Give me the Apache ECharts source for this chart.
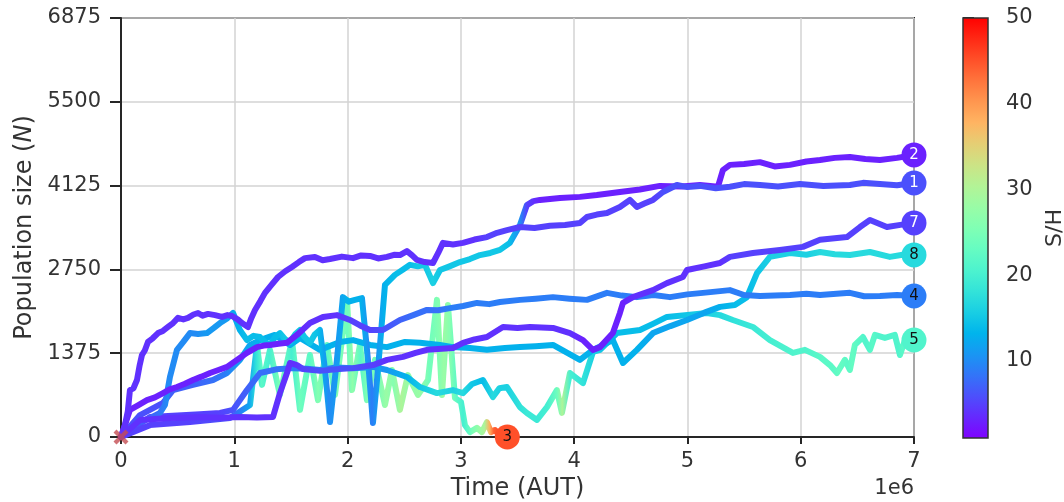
<!DOCTYPE html>
<html>
<head>
<meta charset="utf-8">
<script src="https://cdn.jsdelivr.net/npm/echarts@6/dist/echarts.min.js"></script>
<style>html,body{margin:0;padding:0;background:#fff;}#chart{width:1064px;height:502px;}</style>
</head>
<body>
<div id="chart"></div>
<script>
// ---- data: [time (1e6 AUT), population N, S/H] ----
const s1 = [[0,0,4],[0.035,200,4],[0.06,420,4],[0.079,770,4],[0.11,800,4],[0.141,935,4],[0.165,1180,4],[0.185,1345,4],[0.21,1420,4],[0.238,1560,4],[0.28,1620,4],[0.327,1705,4],[0.37,1740,4],[0.415,1805,4],[0.46,1870,4],[0.503,1955,4],[0.55,1930,4],[0.591,1955,4],[0.64,2010,4],[0.68,2035,4],[0.72,1990,4],[0.768,2020,4],[0.83,2000,4],[0.892,1970,4],[0.94,2000,4],[0.98,1985,4],[1.03,1930,4],[1.068,1870,4],[1.121,1805,4],[1.15,1950,4],[1.183,2085,4],[1.23,2230,4],[1.271,2365,4],[1.33,2500,4],[1.386,2625,4],[1.45,2720,4],[1.509,2790,4],[1.57,2870,4],[1.624,2935,4],[1.712,2955,4],[1.78,2900,4],[1.845,2920,4],[1.95,2960,4],[2.048,2935,4],[2.12,2980,4],[2.198,2970,4],[2.27,2930,4],[2.348,2955,4],[2.41,2990,4],[2.462,2985,4],[2.524,3050,4],[2.57,2980,4],[2.612,2905,4],[2.68,2870,4],[2.754,2855,4],[2.8,3020,4],[2.842,3185,4],[2.93,3160,4],[3.019,3185,4],[3.12,3240,4],[3.23,3280,5],[3.32,3350,5],[3.407,3395,5],[3.522,3445,5],[3.65,3430,5],[3.786,3465,5],[3.92,3480,5],[4.051,3510,5],[4.113,3610,5],[4.2,3650,5],[4.29,3675,5],[4.404,3775,5],[4.492,3890,5],[4.554,3775,5],[4.62,3830,5],[4.696,3890,5],[4.784,4020,6],[4.907,4135,6],[5.0,4100,6],[5.11,4120,6],[5.25,4080,6],[5.375,4105,6],[5.5,4150,6],[5.64,4135,6],[5.8,4110,6],[5.993,4150,6],[6.2,4120,6],[6.434,4135,6],[6.55,4170,6],[6.699,4150,6],[6.85,4130,6],[7,4168,6]];
const s2 = [[0,0,6],[0.124,200,6],[0.256,310,7],[0.344,395,8],[0.388,525,9],[0.432,985,10],[0.494,1430,10],[0.55,1560,10],[0.609,1705,10],[0.68,1690,10],[0.759,1705,11],[0.82,1790,11],[0.874,1870,11],[0.94,1950,11],[0.989,2035,12],[1.05,1755,13],[1.112,1590,14],[1.17,1660,14],[1.227,1640,14],[1.27,1560,14],[1.315,1510,14],[1.36,1640,14],[1.403,1705,14],[1.45,1600,15],[1.492,1560,15],[1.54,1690,15],[1.58,1755,15],[1.62,1640,15],[1.668,1545,15],[1.71,1680,15],[1.756,1755,14],[1.801,1100,12],[1.845,245,10],[1.906,1265,11],[1.959,2295,12],[2.01,2220,13],[2.065,2250,13],[2.127,2280,13],[2.18,1265,11],[2.224,230,9],[2.268,1100,11],[2.33,2495,13],[2.418,2660,14],[2.49,2750,14],[2.551,2825,14],[2.62,2800,15],[2.683,2825,15],[2.754,2525,16],[2.816,2740,15],[2.9,2800,15],[2.992,2870,15],[3.08,2920,15],[3.169,2985,15],[3.26,3020,15],[3.345,3070,15],[3.433,3185,14],[3.522,3480,10],[3.583,3805,5],[3.64,3870,4],[3.698,3890,3],[3.875,3920,3],[4.051,3940,3],[4.2,3970,3],[4.404,4020,3],[4.58,4060,3],[4.757,4120,3],[4.95,4110,3],[5.11,4135,3],[5.269,4105,3],[5.313,4380,3],[5.375,4465,3],[5.5,4480,3],[5.64,4510,3],[5.77,4440,3],[5.905,4465,3],[6.05,4520,3],[6.17,4545,3],[6.3,4580,3],[6.434,4595,3],[6.57,4560,3],[6.699,4545,3],[6.85,4580,3],[7,4628,3]];
const s3 = [[0,0,5],[0.256,195,5],[0.609,245,5],[0.962,310,6],[1.139,525,12],[1.2,1510,18],[1.245,855,22],[1.315,1430,20],[1.403,690,25],[1.509,1590,20],[1.58,445,24],[1.668,1345,22],[1.739,605,26],[1.818,1510,22],[1.889,690,26],[1.995,2250,24],[2.039,770,27],[2.109,1510,22],[2.171,605,26],[2.242,1265,24],[2.33,525,28],[2.392,1100,26],[2.462,445,30],[2.533,1015,27],[2.621,690,28],[2.71,935,24],[2.789,2250,26],[2.833,690,28],[2.886,2165,26],[2.948,640,22],[3.001,575,20],[3.036,195,22],[3.08,80,25],[3.142,150,28],[3.186,80,30],[3.23,245,38],[3.266,80,44],[3.301,115,45],[3.345,15,45],[3.41,0,45]];
const s4 = [[0,0,3],[0.079,445,3],[0.15,520,3],[0.229,605,3],[0.3,650,3],[0.371,720,3],[0.43,780,3],[0.494,820,3],[0.56,870,3],[0.635,935,3],[0.71,990,3],[0.786,1050,3],[0.86,1100,3],[0.936,1150,3],[1.024,1265,3],[1.112,1380,3],[1.2,1475,3],[1.26,1500,3],[1.315,1510,3],[1.39,1530,3],[1.465,1545,3],[1.553,1675,3],[1.668,1870,4],[1.783,1970,4],[1.906,2000,4],[2.021,1920,5],[2.11,1830,5],[2.198,1755,5],[2.312,1755,6],[2.462,1920,7],[2.58,2000,8],[2.701,2085,8],[2.8,2080,8],[2.904,2115,9],[3.02,2150,9],[3.142,2200,9],[3.25,2180,9],[3.345,2215,9],[3.522,2250,9],[3.66,2270,9],[3.813,2295,9],[3.96,2270,9],[4.113,2250,9],[4.29,2365,9],[4.42,2320,9],[4.554,2295,9],[4.7,2330,9],[4.846,2295,9],[5.0,2340,9],[5.137,2365,9],[5.375,2410,9],[5.5,2330,9],[5.64,2315,9],[5.905,2330,9],[6.05,2350,9],[6.17,2330,9],[6.434,2365,9],[6.56,2310,9],[6.699,2315,9],[6.85,2330,9],[7,2314,9]];
const s5 = [[0,0,5],[0.256,330,5],[0.697,375,5],[0.874,395,5],[0.989,445,6],[1.112,770,7],[1.227,1050,8],[1.37,1110,8],[1.518,1130,9],[1.64,1120,9],[1.756,1100,9],[1.9,1140,9],[2.048,1130,10],[2.224,1150,10],[2.348,1100,11],[2.524,985,13],[2.639,820,15],[2.789,720,17],[2.93,770,16],[3.019,720,17],[3.1,870,15],[3.195,935,14],[3.283,655,17],[3.34,800,16],[3.407,820,16],[3.522,490,18],[3.583,395,19],[3.672,280,19],[3.76,490,20],[3.848,770,24],[3.892,395,30],[3.963,1050,20],[4.078,885,18],[4.166,1395,16],[4.228,1430,15],[4.378,1705,14],[4.581,1755,14],[4.7,1860,14],[4.819,1970,14],[5.0,2000,15],[5.172,2035,16],[5.287,2000,17],[5.401,1920,18],[5.578,1805,19],[5.728,1590,20],[5.931,1380,21],[6.037,1430,21],[6.17,1315,22],[6.258,1180,22],[6.32,1050,23],[6.39,1265,22],[6.434,1100,23],[6.478,1510,22],[6.549,1640,21],[6.611,1430,22],[6.655,1675,21],[6.743,1625,21],[6.831,1675,21],[6.876,1345,22],[6.92,1590,21],[7,1592,21]];
const s7 = [[0,0,4],[0.168,280,4],[0.432,310,4],[0.697,330,4],[0.88,315,4],[1.05,330,4],[1.2,320,4],[1.342,330,4],[1.403,720,4],[1.465,1050,4],[1.492,1215,4],[1.553,1180,4],[1.606,1115,5],[1.756,1085,6],[1.9,1110,6],[2.048,1130,6],[2.224,1180,5],[2.348,1265,4],[2.489,1315,4],[2.6,1380,4],[2.701,1430,4],[2.93,1460,4],[3.019,1545,4],[3.12,1600,4],[3.23,1640,4],[3.372,1805,4],[3.5,1790,4],[3.61,1805,4],[3.813,1790,4],[3.963,1705,4],[4.078,1590,3],[4.166,1430,3],[4.228,1475,3],[4.342,1705,3],[4.404,2035,3],[4.431,2200,3],[4.519,2295,4],[4.696,2410,4],[4.819,2525,4],[4.96,2625,4],[4.996,2740,4],[5.15,2800,4],[5.287,2855,4],[5.375,2955,5],[5.578,3020,5],[5.816,3070,5],[6.019,3120,5],[6.17,3235,5],[6.408,3280,5],[6.523,3445,5],[6.611,3560,5],[6.761,3445,5],[6.88,3480,5],[7,3512,5]];
const s8 = [[0,0,6],[0.168,360,6],[0.371,560,6],[0.459,770,7],[0.635,855,7],[0.812,935,8],[0.936,1050,9],[1.05,1265,11],[1.139,1510,12],[1.227,1590,13],[1.359,1675,13],[1.492,1510,13],[1.58,1625,13],[1.756,1430,13],[1.933,1560,13],[2.048,1590,13],[2.198,1510,13],[2.348,1475,13],[2.507,1560,13],[2.639,1545,13],[2.816,1510,13],[2.93,1475,13],[3.08,1460,13],[3.23,1430,13],[3.389,1460,13],[3.522,1475,13],[3.66,1490,13],[3.813,1510,13],[4.051,1265,13],[4.166,1430,13],[4.342,1590,13],[4.431,1215,13],[4.554,1430,13],[4.696,1705,12],[4.85,1820,12],[4.996,1920,12],[5.15,2040,12],[5.287,2135,13],[5.419,2165,14],[5.525,2295,14],[5.614,2690,15],[5.728,2955,16],[5.905,3020,16],[6.05,2990,16],[6.17,3035,17],[6.3,3000,17],[6.434,2985,17],[6.611,3035,17],[6.787,2955,17],[6.9,2990,17],[7,2987,17]];

const seriesNames = ['3','5','8','2','4','7','1'];
const seriesData  = [s3, s5, s8, s2, s4, s7, s1];
const whiteLabel = ['1','2','7'];

const xTicks = [0,1,2,3,4,5,6,7];
const yTicks = [0,1375,2750,4125,5500,6875];
const cbTicks = [10,20,30,40,50];
const CB_MIN = 1, CB_MAX = 50;
const deathPoint = [0, 0];

// ---- rendering ----
function rainbow(v){
  const t = Math.min(1, Math.max(0, (v - CB_MIN) / (CB_MAX - CB_MIN)));
  const r = Math.min(1, Math.abs(2*t - 0.5));
  const g = Math.sin(Math.PI*t);
  const b = Math.cos(Math.PI*t/2);
  return 'rgb(' + Math.round(r*255) + ',' + Math.round(g*255) + ',' + Math.round(b*255) + ')';
}
function lineGradient(pts){
  const t0 = pts[0][0], t1 = pts[pts.length-1][0];
  return new echarts.graphic.LinearGradient(0,0,1,0,
    pts.map(p => ({offset: (p[0]-t0)/(t1-t0), color: rainbow(p[2])})));
}
const cbStops = [];
for (let i = 0; i <= 20; i++) {
  const v = CB_MIN + (CB_MAX - CB_MIN) * i / 20;
  cbStops.push({offset: i/20, color: rainbow(v)});
}

const FONT = 'DejaVu Sans';
const TXT = '#333';
const AX = '#262626';

const lineSeries = seriesData.map((pts, i) => ({
  type: 'line', name: 'run' + seriesNames[i],
  xAxisIndex: 0, yAxisIndex: 0,
  data: pts.map(p => [p[0], p[1]]),
  showSymbol: false, symbol: 'none', silent: true,
  lineStyle: {width: 6, color: lineGradient(pts), cap: 'round', join: 'round'},
  z: 2 + i
}));

const endLabels = {
  type: 'scatter', xAxisIndex: 0, yAxisIndex: 0, symbolSize: 25, z: 20, clip: false,
  data: seriesData.map((pts, i) => {
    const last = pts[pts.length-1];
    return {
      value: [last[0], last[1]], name: seriesNames[i],
      itemStyle: {color: rainbow(last[2]), opacity: 1},
      label: {show: true, position: 'inside', formatter: '{b}', fontFamily: FONT, fontSize: 15,
              color: whiteLabel.indexOf(seriesNames[i]) >= 0 ? '#fff' : '#111'}
    };
  })
};

const deathMarker = {
  type: 'scatter', xAxisIndex: 0, yAxisIndex: 0, z: 21, clip: false,
  symbol: 'path://M2,0 L5,3 L8,0 L10,2 L7,5 L10,8 L8,10 L5,7 L2,10 L0,8 L3,5 L0,2 Z',
  symbolSize: 15,
  itemStyle: {color: '#c44e52'},
  data: [deathPoint]
};

const colorbar = {
  type: 'custom', xAxisIndex: 1, yAxisIndex: 1, silent: true,
  data: [[0, CB_MIN]],
  renderItem: function(params, api){
    const p0 = api.coord([0, CB_MIN]);
    const p1 = api.coord([1, CB_MAX]);
    return {
      type: 'rect',
      shape: {x: p0[0], y: p1[1], width: p1[0]-p0[0], height: p0[1]-p1[1]},
      style: {fill: new echarts.graphic.LinearGradient(0,1,0,0, cbStops), stroke: '#333', lineWidth: 1.5}
    };
  }
};

const chart = echarts.init(document.getElementById('chart'), null, {renderer: 'canvas'});
chart.setOption({
  animation: false,
  backgroundColor: '#fff',
  textStyle: {fontFamily: FONT},
  grid: [
    {left: 121, top: 18, width: 793, height: 419, show: true, borderColor: AX, borderWidth: 2,
     backgroundColor: 'transparent', containLabel: false, outerBoundsMode: 'none'},
    {left: 963, top: 18, width: 25, height: 420, containLabel: false, outerBoundsMode: 'none'}
  ],
  xAxis: [
    {type: 'value', gridIndex: 0, min: xTicks[0], max: xTicks[xTicks.length-1], interval: 1,
     name: 'Time (AUT)', nameLocation: 'middle', nameGap: 40,
     nameTextStyle: {fontFamily: FONT, fontSize: 24, color: TXT},
     axisLine: {show: true, lineStyle: {color: AX, width: 2}},
     axisTick: {show: true, length: 7, lineStyle: {color: AX, width: 2}},
     axisLabel: {fontFamily: FONT, fontSize: 21, color: TXT, margin: 14, formatter: v => String(v)},
     splitLine: {show: true, lineStyle: {color: '#d3d3d3', width: 1.5}}},
    {type: 'value', gridIndex: 1, min: 0, max: 1, show: false}
  ],
  yAxis: [
    {type: 'value', gridIndex: 0, min: yTicks[0], max: yTicks[yTicks.length-1], interval: 1375,
     name: 'Population size ({i|N})', nameLocation: 'middle', nameGap: 84, nameRotate: 90,
     nameTextStyle: {fontFamily: FONT, fontSize: 24, color: TXT,
       rich: {i: {fontFamily: FONT, fontSize: 24, fontStyle: 'italic', color: TXT}}},
     axisLine: {show: true, lineStyle: {color: AX, width: 2}},
     axisTick: {show: true, length: 11, lineStyle: {color: AX, width: 2}},
     axisLabel: {fontFamily: FONT, fontSize: 21, color: TXT, margin: 20, formatter: v => String(v)},
     splitLine: {show: true, lineStyle: {color: '#d3d3d3', width: 1.5}}},
    {type: 'value', gridIndex: 1, min: CB_MIN, max: CB_MAX, position: 'right',
     name: 'S/H', nameLocation: 'middle', nameGap: 56, nameRotate: 90,
     nameTextStyle: {fontFamily: FONT, fontSize: 22, color: TXT},
     axisLine: {show: false},
     axisTick: {show: true, length: 11, customValues: cbTicks, lineStyle: {color: AX, width: 2}},
     axisLabel: {fontFamily: FONT, fontSize: 21, color: TXT, margin: 18, customValues: cbTicks},
     splitLine: {show: false}}
  ],
  graphic: [
    {type: 'text', right: 150, top: 478, style: {text: '1e6', fontFamily: FONT, fontSize: 21, fill: TXT}}
  ],
  series: [...lineSeries, endLabels, deathMarker, colorbar]
});
</script>
</body>
</html>
